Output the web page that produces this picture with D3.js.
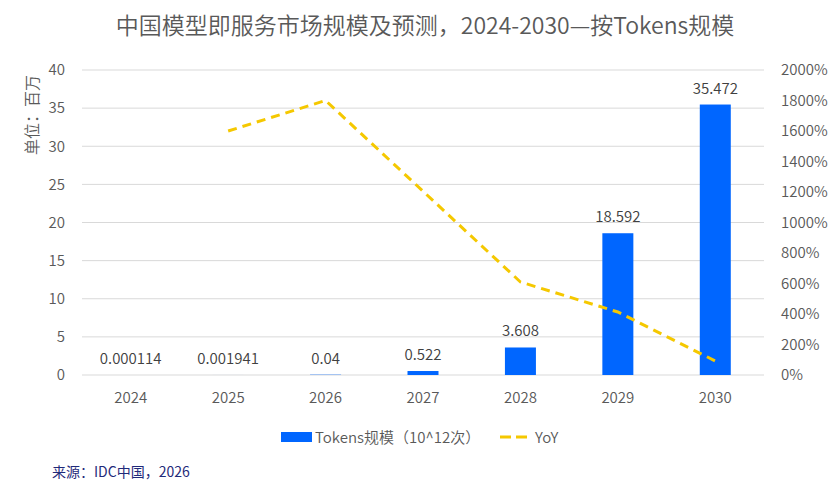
<!DOCTYPE html>
<html>
<head>
<meta charset="utf-8">
<script src="https://cdn.jsdelivr.net/npm/d3@7"></script>
<style>
  body { margin: 0; background: #fff; }
  text { font-family: "Noto Sans CJK SC", "Noto Sans", sans-serif; font-weight: 350; }
</style>
</head>
<body>
<div id="chart"></div>
<script>
// data
const years = ['2024', '2025', '2026', '2027', '2028', '2029', '2030'];
const tokens = [0.000114, 0.001941, 0.04, 0.522, 3.608, 18.592, 35.472];
const tokenLabels = ['0.000114', '0.001941', '0.04', '0.522', '3.608', '18.592', '35.472'];
const yoy = [null, 1600, 1800, 1205, 610, 413, 92];
const leftTicks = [0, 5, 10, 15, 20, 25, 30, 35, 40];
const rightTicks = [0, 200, 400, 600, 800, 1000, 1200, 1400, 1600, 1800, 2000];

const width = 834, height = 489;
const margin = { top: 70, right: 70, bottom: 114, left: 82 };

const svg = d3.select('#chart')
    .append('svg')
    .attr('width', width)
    .attr('height', height);

const x = d3.scaleBand()
    .domain(years)
    .range([margin.left, width - margin.right]);

const y = d3.scaleLinear()
    .domain([0, 40])
    .range([height - margin.bottom, margin.top]);

const y2 = d3.scaleLinear()
    .domain([0, 2000])
    .range([height - margin.bottom, margin.top]);

// title
svg.append('text')
    .attr('x', 425)
    .attr('y', 34)
    .attr('text-anchor', 'middle')
    .attr('font-size', 23)
    .attr('fill', '#595959')
    .text('中国模型即服务市场规模及预测，2024-2030—按Tokens规模');

// gridlines
svg.append('g')
    .selectAll('line')
    .data(leftTicks)
    .enter()
    .append('line')
    .attr('x1', margin.left)
    .attr('x2', width - margin.right)
    .attr('y1', d => y(d))
    .attr('y2', d => y(d))
    .attr('stroke', '#d9d9d9')
    .attr('stroke-width', 1);

// left axis
const leftAxis = svg.append('g')
    .attr('transform', 'translate(' + (margin.left - 14) + ',0)')
    .call(d3.axisLeft(y).tickValues(leftTicks).tickSize(0));
leftAxis.select('.domain').remove();
leftAxis.selectAll('text')
    .attr('font-size', 15)
    .attr('fill', '#595959');

// right axis
const rightAxis = svg.append('g')
    .attr('transform', 'translate(' + (width - margin.right + 14) + ',0)')
    .call(d3.axisRight(y2).tickValues(rightTicks).tickSize(0).tickFormat(d => d + '%'));
rightAxis.select('.domain').remove();
rightAxis.selectAll('text')
    .attr('font-size', 15)
    .attr('fill', '#595959');

// bottom axis
const bottomAxis = svg.append('g')
    .attr('transform', 'translate(0,' + (height - margin.bottom + 14) + ')')
    .call(d3.axisBottom(x).tickSize(0));
bottomAxis.select('.domain').remove();
bottomAxis.selectAll('text')
    .attr('font-size', 15)
    .attr('fill', '#595959');

// unit label
svg.append('text')
    .attr('transform', 'translate(38,115) rotate(-90)')
    .attr('text-anchor', 'middle')
    .attr('font-size', 16)
    .attr('fill', '#595959')
    .text('单位：百万');

// bars
const barW = 31;
svg.append('g')
    .selectAll('rect')
    .data(tokens)
    .enter()
    .append('rect')
    .attr('x', (d, i) => x(years[i]) + x.bandwidth() / 2 - barW / 2)
    .attr('y', d => y(d))
    .attr('width', barW)
    .attr('height', d => y(0) - y(d))
    .attr('fill', '#0066ff');

// bar labels
svg.append('g')
    .selectAll('text')
    .data(tokens)
    .enter()
    .append('text')
    .attr('x', (d, i) => x(years[i]) + x.bandwidth() / 2)
    .attr('y', d => y(d) - 11)
    .attr('text-anchor', 'middle')
    .attr('font-size', 15)
    .attr('fill', '#404040')
    .text((d, i) => tokenLabels[i]);

// yoy line
const line = d3.line()
    .defined(d => d != null)
    .x((d, i) => x(years[i]) + x.bandwidth() / 2)
    .y(d => y2(d));

svg.append('path')
    .datum(yoy)
    .attr('d', line)
    .attr('fill', 'none')
    .attr('stroke', '#f5c800')
    .attr('stroke-width', 3)
    .attr('stroke-dasharray', '9,6');

// legend
const legend = svg.append('g');
legend.append('rect')
    .attr('x', 281)
    .attr('y', 432)
    .attr('width', 31)
    .attr('height', 10)
    .attr('fill', '#0066ff');
legend.append('text')
    .attr('x', 315)
    .attr('y', 443)
    .attr('font-size', 15)
    .attr('fill', '#595959')
    .text('Tokens规模（10^12次）');
legend.append('line')
    .attr('x1', 500)
    .attr('x2', 530)
    .attr('y1', 437)
    .attr('y2', 437)
    .attr('stroke', '#f5c800')
    .attr('stroke-width', 3)
    .attr('stroke-dasharray', '11,5');
legend.append('text')
    .attr('x', 535)
    .attr('y', 443)
    .attr('font-size', 15)
    .attr('fill', '#595959')
    .text('YoY');

// source
svg.append('text')
    .attr('x', 52)
    .attr('y', 477)
    .attr('font-size', 14)
    .attr('fill', '#1f2a7a')
    .style('font-weight', 400)
    .text('来源：IDC中国，2026');
</script>
</body>
</html>
